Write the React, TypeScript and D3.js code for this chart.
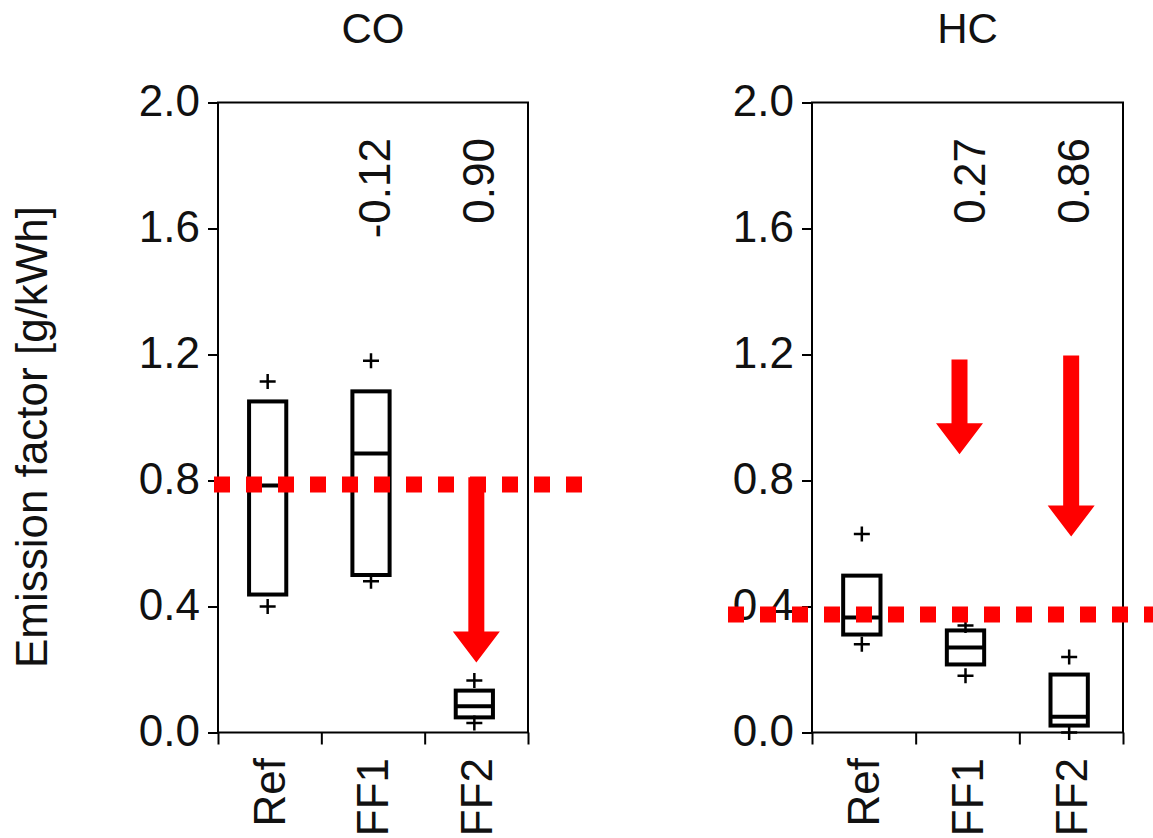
import React, { useEffect, useRef } from "react";
import * as d3 from "d3";

// categories and box statistics (g/kWh)
const categories = ["Ref", "FF1", "FF2"];
const yTicks = [0, 0.4, 0.8, 1.2, 1.6, 2.0];

const coQ1 = [0.438, 0.5, 0.048];
const coMedian = [0.784, 0.886, 0.083];
const coQ3 = [1.051, 1.083, 0.133];
const coLow = [0.4, 0.48, 0.03];
const coHigh = [1.114, 1.18, 0.165];
const coNotes = ["", "-0.12", "0.90"];
const coRefLine = 0.787;
const coArrows = [{ cat: "FF2", from: 0.81, to: 0.222 }];

const hcQ1 = [0.311, 0.216, 0.022];
const hcMedian = [0.365, 0.27, 0.05];
const hcQ3 = [0.498, 0.324, 0.184];
const hcLow = [0.28, 0.18, 0.0];
const hcHigh = [0.63, 0.34, 0.24];
const hcNotes = ["", "0.27", "0.86"];
const hcRefLine = 0.375;
const hcArrows = [
  { cat: "FF1", from: 1.184, to: 0.883 },
  { cat: "FF2", from: 1.197, to: 0.622 },
];

const FONT = "'Liberation Sans', Arial, sans-serif";
const W = 1153,
  H = 838;
const top = 102.5,
  bottom = 732.5;

const panels = [
  {
    title: "CO", x0: 218, x1: 528, lineX: [214, 584],
    q1: coQ1, med: coMedian, q3: coQ3, low: coLow, high: coHigh,
    notes: coNotes, refLine: coRefLine, arrows: coArrows, arrowShift: [0],
  },
  {
    title: "HC", x0: 812, x1: 1123, lineX: [728, 1160],
    q1: hcQ1, med: hcMedian, q3: hcQ3, low: hcLow, high: hcHigh,
    notes: hcNotes, refLine: hcRefLine, arrows: hcArrows, arrowShift: [-8, 0],
  },
];

export default function App() {
  const ref = useRef<SVGSVGElement | null>(null);

  useEffect(() => {
    const svg = d3.select(ref.current);
    svg.selectAll("*").remove();

    const y = d3.scaleLinear().domain([0, 2]).range([bottom, top]);

    panels.forEach((p) => {
      const g = svg.append("g");
      const xBand = d3.scaleBand().domain(categories).range([p.x0, p.x1]);
      const xEdge = d3.scaleLinear().domain([0, categories.length]).range([p.x0, p.x1]);
      const cx = (c: string) => (xBand(c) as number) + xBand.bandwidth() / 2;
      const boxW = xBand.bandwidth() * 0.36;

      // frame
      g.append("rect")
        .attr("x", p.x0).attr("y", top)
        .attr("width", p.x1 - p.x0).attr("height", bottom - top)
        .attr("fill", "none").attr("stroke", "#000").attr("stroke-width", 2);

      // y axis
      const ya = g.append("g")
        .attr("transform", `translate(${p.x0},0)`)
        .call(d3.axisLeft(y).tickValues(yTicks).tickFormat(d3.format(".1f")).tickSize(10).tickSizeOuter(0).tickPadding(8));
      ya.select(".domain").remove();
      ya.selectAll("line").attr("stroke-width", 2);
      ya.selectAll("text").attr("font-family", FONT).attr("font-size", 44).attr("fill", "#111").attr("dy", "0.3em");

      // x axis: ticks at band edges
      const xa = g.append("g")
        .attr("transform", `translate(0,${bottom})`)
        .call(d3.axisBottom(xEdge).tickValues(d3.range(categories.length + 1)).tickFormat(() => "").tickSize(12).tickSizeOuter(0));
      xa.select(".domain").remove();
      xa.selectAll("line").attr("stroke-width", 2);

      // category labels
      g.selectAll(".cat").data(categories).join("text")
        .attr("transform", (d) => `translate(${cx(d)},758) rotate(-90)`)
        .attr("dy", "0.35em").attr("text-anchor", "end")
        .attr("font-family", FONT).attr("font-size", 44).attr("fill", "#111")
        .text((d) => d);

      // title
      g.append("text")
        .attr("x", (p.x0 + p.x1) / 2).attr("y", 43)
        .attr("text-anchor", "middle")
        .attr("font-family", FONT).attr("font-size", 42).attr("fill", "#111")
        .text(p.title);

      // boxes
      categories.forEach((c, i) => {
        const x = cx(c) - 2;
        g.append("rect")
          .attr("x", x - boxW / 2).attr("y", y(p.q3[i]))
          .attr("width", boxW).attr("height", y(p.q1[i]) - y(p.q3[i]))
          .attr("fill", "none").attr("stroke", "#000").attr("stroke-width", 4);
        g.append("line")
          .attr("x1", x - boxW / 2).attr("x2", x + boxW / 2)
          .attr("y1", y(p.med[i])).attr("y2", y(p.med[i]))
          .attr("stroke", "#000").attr("stroke-width", 4);
        [p.low[i], p.high[i]].forEach((v) => {
          g.append("path")
            .attr("d", `M${x - 8},${y(v)}H${x + 8}M${x},${y(v) - 7.5}V${y(v) + 7.5}`)
            .attr("stroke", "#000").attr("stroke-width", 2.5);
        });
        if (p.notes[i]) {
          g.append("text")
            .attr("transform", `translate(${cx(c) + 2},138) rotate(-90)`)
            .attr("dy", "0.35em").attr("text-anchor", "end")
            .attr("font-family", FONT).attr("font-size", 44).attr("fill", "#111")
            .text(p.notes[i]);
        }
      });

      // red dotted reference line
      g.append("line")
        .attr("x1", p.lineX[0]).attr("x2", p.lineX[1])
        .attr("y1", y(p.refLine)).attr("y2", y(p.refLine))
        .attr("stroke", "#ff0000").attr("stroke-width", 16)
        .attr("stroke-dasharray", "16 16");

      // red arrows
      p.arrows.forEach((a, k) => {
        const x = cx(a.cat) + p.arrowShift[k];
        const y0 = y(a.from), y1 = y(a.to);
        const sw = 8, hw = 23.5, hl = 31;
        g.append("path")
          .attr("d", `M${x - sw},${y0}H${x + sw}V${y1 - hl}H${x + hw}L${x},${y1}L${x - hw},${y1 - hl}H${x - sw}Z`)
          .attr("fill", "#ff0000");
      });
    });

    // y axis label
    svg.append("text")
      .attr("transform", `translate(47,437) rotate(-90)`)
      .attr("text-anchor", "middle")
      .attr("font-family", FONT).attr("font-size", 44).attr("fill", "#111")
      .text("Emission factor [g/kWh]");
  }, []);

  return (
    <svg
      ref={ref}
      width={W}
      height={H}
      style={{ position: "absolute", left: 0, top: 0, background: "#fff" }}
    />
  );
}
